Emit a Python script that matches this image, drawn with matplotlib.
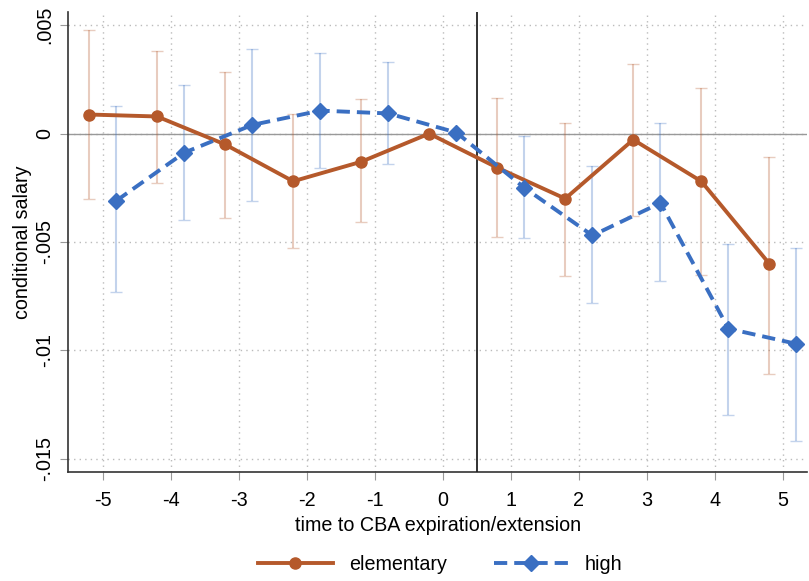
import numpy as np
import matplotlib
matplotlib.use('Agg')
import matplotlib.pyplot as plt

plt.rcParams['font.family'] = ['Liberation Sans', 'DejaVu Sans']

# periodos relativos al vencimiento del convenio
t = [-5, -4, -3, -2, -1, 0, 1, 2, 3, 4, 5]

# elementary: coeficiente e intervalo
elem = [0.00088, 0.00079, -0.0005, -0.0022, -0.0013, 0.0, -0.00157, -0.0030, -0.00028, -0.0022, -0.0060]
elem_hi = [0.00476, 0.00383, 0.00286, 0.0009, 0.0016, 0.0, 0.00166, 0.0005, 0.0032, 0.0021, -0.0011]
elem_lo = [-0.0030, -0.00226, -0.0039, -0.0053, -0.0041, 0.0, -0.00476, -0.00656, -0.0038, -0.0065, -0.0111]

# high: coeficiente e intervalo
high = [-0.0031, -0.00088, 0.0004, 0.00106, 0.00093, 0.00005, -0.0025, -0.0047, -0.0032, -0.0090, -0.0097]
high_hi = [0.00125, 0.00226, 0.0039, 0.0037, 0.0033, 0.00005, -0.0001, -0.0015, 0.0005, -0.0051, -0.0053]
high_lo = [-0.0073, -0.0040, -0.0031, -0.0016, -0.0014, 0.00005, -0.0048, -0.0078, -0.0068, -0.0130, -0.0142]

yticks = [0.005, 0, -0.005, -0.01, -0.015]
ytick_labels = ['.005', '0', '-.005', '-.01', '-.015']

c_elem = '#B5592B'
c_high = '#3A6FC2'
fs = 14.2

fig = plt.figure(figsize=(8.09, 5.81), dpi=100)
ax = fig.add_axes([0.084, 0.188, 0.914, 0.791])

te = np.array(t) - 0.2
th = np.array(t) + 0.2
elem = np.array(elem)
high = np.array(high)

# intervalos (sin el periodo base 0)
m = np.array(t) != 0
ax.errorbar(te[m], elem[m],
            yerr=[elem[m] - np.array(elem_lo)[m], np.array(elem_hi)[m] - elem[m]],
            fmt='none', ecolor=c_elem, alpha=0.3, elinewidth=1.5, capsize=4, zorder=2)
ax.errorbar(th[m], high[m],
            yerr=[high[m] - np.array(high_lo)[m], np.array(high_hi)[m] - high[m]],
            fmt='none', ecolor=c_high, alpha=0.3, elinewidth=1.5, capsize=4, zorder=2)

ax.plot(te, elem, color=c_elem, lw=2.8, marker='o', ms=8, label='elementary', zorder=4)
ax.plot(th, high, color=c_high, lw=2.8, marker='D', ms=8, dashes=(3.4, 1.8),
        label='high', zorder=4)

ax.axhline(0, color='#999999', lw=1, zorder=1)
ax.axvline(0.5, color='#222222', lw=1.3, zorder=3)

ax.set_xlim(-5.51, 5.36)
ax.set_ylim(-0.0156, 0.0056)
ax.set_xticks(t)
ax.set_xticklabels([str(v) for v in t])
ax.set_yticks(yticks)
ax.set_yticklabels(ytick_labels, rotation=90, va='center')

ax.grid(True, linestyle=(0, (1, 3)), color='#bbbbbb', lw=1)
ax.set_axisbelow(True)
for s in ['top', 'right']:
    ax.spines[s].set_visible(False)
for s in ['left', 'bottom']:
    ax.spines[s].set_color('#333333')
    ax.spines[s].set_linewidth(1.2)
ax.tick_params(axis='both', direction='out', length=6, color='#999999', labelsize=fs)
ax.tick_params(axis='x', pad=8)
ax.tick_params(axis='y', pad=4)

ax.set_xlabel('time to CBA expiration/extension', fontsize=fs, labelpad=4)
ax.set_ylabel('conditional salary', fontsize=fs, labelpad=2)

fig.legend(loc='lower center', bbox_to_anchor=(0.544, -0.018), ncol=2, frameon=False,
           fontsize=fs, handlelength=3.8, columnspacing=2.4, handletextpad=0.8)

fig.savefig('out.png', dpi=100)
